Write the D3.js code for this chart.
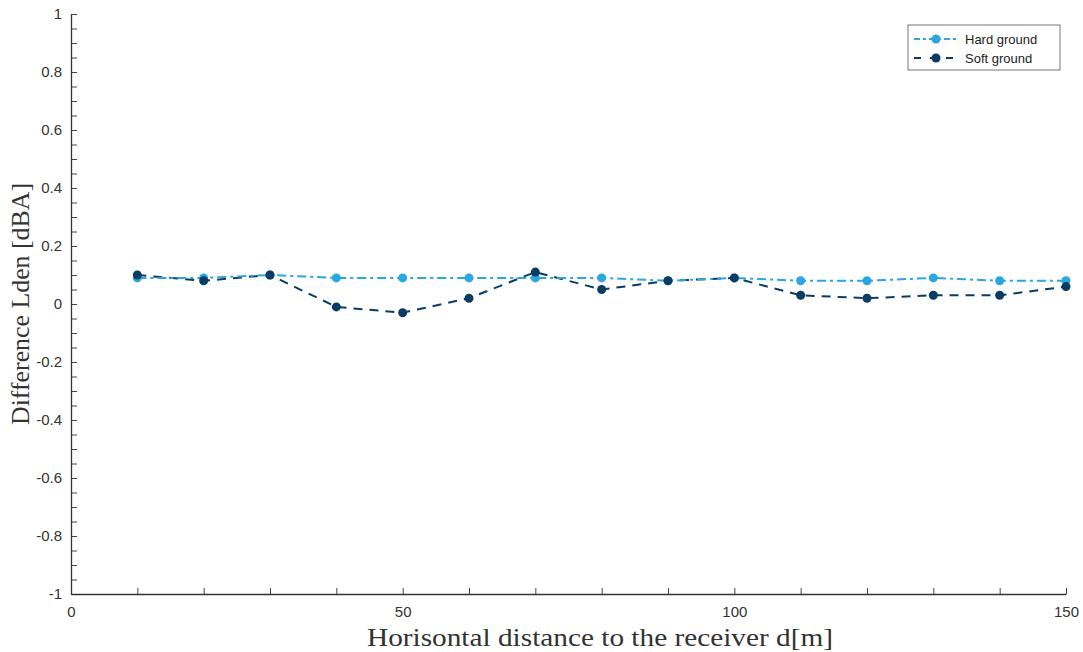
<!DOCTYPE html>
<html>
<head>
<meta charset="utf-8">
<script src="https://cdn.jsdelivr.net/npm/d3@7"></script>
<style>
  body { margin: 0; background: #fff; }
  text { font-family: "Liberation Sans", Arial, sans-serif; }
</style>
</head>
<body>
<svg id="chart" width="1083" height="652"></svg>
<script>
const distance = [10, 20, 30, 40, 50, 60, 70, 80, 90, 100, 110, 120, 130, 140, 150];
const hardGround = [0.09, 0.09, 0.10, 0.09, 0.09, 0.09, 0.09, 0.09, 0.08, 0.09, 0.08, 0.08, 0.09, 0.08, 0.08];
const softGround = [0.10, 0.08, 0.10, -0.01, -0.03, 0.02, 0.11, 0.05, 0.08, 0.09, 0.03, 0.02, 0.03, 0.03, 0.06];
const xTicks = [0, 50, 100, 150];
const yTicks = [-1, -0.8, -0.6, -0.4, -0.2, 0, 0.2, 0.4, 0.6, 0.8, 1];

const margin = {top: 14, right: 17, bottom: 58, left: 71};
const width = 1083 - margin.left - margin.right;
const height = 652 - margin.top - margin.bottom;

const svg = d3.select("#chart");
const g = svg.append("g").attr("transform", `translate(${margin.left},${margin.top})`);

const x = d3.scaleLinear().domain([0, 150]).range([0, width]);
const y = d3.scaleLinear().domain([-1, 1]).range([height, 0]);

//#region axes
// minor ticks
g.append("g").attr("transform", `translate(0,${height})`)
    .call(d3.axisTop(x).tickValues(d3.range(0, 151, 10)).tickSize(6).tickFormat(""))
    .call(a => a.select(".domain").remove())
    .selectAll("line").attr("stroke", "#444");
g.append("g")
    .call(d3.axisRight(y).tickValues(d3.range(-1, 1.001, 0.05)).tickSize(6).tickFormat(""))
    .call(a => a.select(".domain").remove())
    .selectAll("line").attr("stroke", "#444");

const fmtY = d => String(+d.toFixed(1));  // plain hyphen for negatives

const xAxis = g.append("g").attr("transform", `translate(0,${height})`)
    .call(d3.axisBottom(x).tickValues(xTicks).tickSize(0).tickPadding(12).tickFormat(d3.format("d")));
xAxis.select(".domain").attr("stroke", "#333").attr("stroke-width", 1.3);
xAxis.selectAll("text").attr("font-size", 15).attr("fill", "#333");

const yAxis = g.append("g")
    .call(d3.axisLeft(y).tickValues(yTicks).tickSize(0).tickPadding(9).tickFormat(fmtY));
yAxis.select(".domain").attr("stroke", "#333").attr("stroke-width", 1.3);
yAxis.selectAll("text").attr("font-size", 15).attr("fill", "#333");
//#endregion

const hardColor = "#2aa7e1";
const softColor = "#0a3c64";

const hardData = distance.map((d, i) => ({x: d, y: hardGround[i]}));
const softData = distance.map((d, i) => ({x: d, y: softGround[i]}));

const line = d3.line().x(d => x(d.x)).y(d => y(d.y));

g.append("path").datum(softData)
    .attr("fill", "none").attr("stroke", softColor).attr("stroke-width", 2)
    .attr("stroke-dasharray", "9,7").attr("d", line);
g.append("path").datum(hardData)
    .attr("fill", "none").attr("stroke", hardColor).attr("stroke-width", 2)
    .attr("stroke-dasharray", "9,4,3,4").attr("d", line);

g.append("g").selectAll("circle").data(hardData).join("circle")
    .attr("cx", d => x(d.x)).attr("cy", d => y(d.y)).attr("r", 4.5).attr("fill", hardColor);
g.append("g").selectAll("circle").data(softData).join("circle")
    .attr("cx", d => x(d.x)).attr("cy", d => y(d.y)).attr("r", 4.5).attr("fill", softColor);

// axis titles
svg.append("text")
    .attr("x", 367).attr("y", 646)
    .attr("textLength", 466).attr("lengthAdjust", "spacingAndGlyphs")
    .style("font-family", "'Liberation Serif', 'Times New Roman', serif")
    .attr("font-size", 25).attr("fill", "#333")
    .text("Horisontal distance to the receiver d[m]");
svg.append("text")
    .attr("transform", `translate(29,425) rotate(-90)`)
    .attr("textLength", 242).attr("lengthAdjust", "spacingAndGlyphs")
    .style("font-family", "'Liberation Serif', 'Times New Roman', serif")
    .attr("font-size", 25).attr("fill", "#333")
    .text("Difference Lden [dBA]");

//#region legend
const legend = svg.append("g").attr("transform", "translate(908,25)");
legend.append("rect").attr("width", 152).attr("height", 45)
    .attr("fill", "#fff").attr("stroke", "#555").attr("stroke-width", 0.8);
const items = [
    {label: "Hard ground", color: hardColor, dash: "6,3,3,3"},
    {label: "Soft ground", color: softColor, dash: "7,9"}
];
items.forEach((it, i) => {
    const ly = 14 + i * 19;
    legend.append("line").attr("x1", 6).attr("x2", 50).attr("y1", ly).attr("y2", ly)
        .attr("stroke", it.color).attr("stroke-width", 2).attr("stroke-dasharray", it.dash);
    legend.append("circle").attr("cx", 28).attr("cy", ly).attr("r", 4.5).attr("fill", it.color);
    legend.append("text").attr("x", 57).attr("y", ly + 4.5)
        .attr("font-size", 13).attr("fill", "#222").text(it.label);
});
//#endregion
</script>
</body>
</html>
